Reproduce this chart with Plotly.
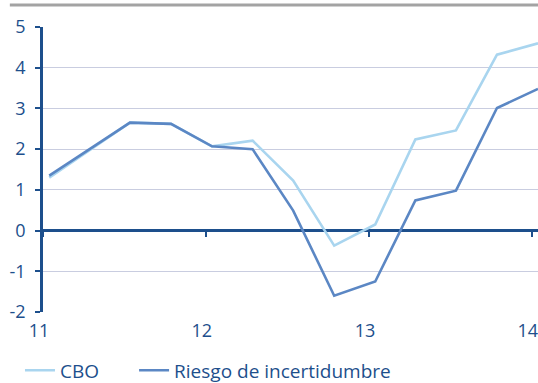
import plotly.graph_objects as go

# Quarterly observations (mid-month of each quarter start), 2011-2014
dates = [
    "2011-01-15", "2011-04-15", "2011-07-15", "2011-10-15",
    "2012-01-15", "2012-04-15", "2012-07-15", "2012-10-15",
    "2013-01-15", "2013-04-15", "2013-07-15", "2013-10-15",
    "2014-01-15",
]
cbo = [1.30, 1.98, 2.65, 2.62, 2.07, 2.21, 1.23, -0.37, 0.15, 2.24, 2.46, 4.32, 4.60]
riesgo = [1.35, 2.00, 2.65, 2.62, 2.07, 2.00, 0.49, -1.60, -1.25, 0.74, 0.98, 3.01, 3.48]

year_ticks = ["2011-01-01", "2012-01-01", "2013-01-01", "2014-01-01"]
year_labels = ["11", "12", "13", "14"]
y_ticks = [-2, -1, 0, 1, 2, 3, 4, 5]
y_labels = ["-2", "-1", "0", "1", "2", "3", "4", "5"]

DARK = "#1d4f8c"
FONT = "Open Sans"

fig = go.Figure()
fig.add_trace(go.Scatter(x=dates, y=cbo, mode="lines", name="CBO", legend="legend",
                         line=dict(color="#a9d5ef", width=2.6)))
fig.add_trace(go.Scatter(x=dates, y=riesgo, mode="lines", name="Riesgo de incertidumbre",
                         legend="legend2", line=dict(color="#5b87c4", width=2.6)))
# invisible trace carrying the tick marks on the zero line
fig.add_trace(go.Scatter(x=dates, y=riesgo, xaxis="x2", mode="lines",
                         line=dict(width=0), showlegend=False, hoverinfo="skip",
                         opacity=0))

legend_style = dict(orientation="h", yanchor="middle", y=-0.205, xanchor="left",
                    font=dict(family=FONT, size=19, color=DARK),
                    itemwidth=30, bgcolor="rgba(0,0,0,0)", borderwidth=0)

fig.update_layout(
    width=538, height=383,
    margin=dict(l=43, r=0, t=27, b=71, autoexpand=False),
    paper_bgcolor="white", plot_bgcolor="white",
    font=dict(family=FONT, size=17, color=DARK),
    showlegend=True,
    legend=dict(x=-0.0465, **legend_style),
    legend2=dict(x=0.184, **legend_style),
    xaxis=dict(type="date", range=["2011-01-01", "2014-01-15"],
               tickvals=year_ticks, ticktext=year_labels,
               showgrid=False, showline=False, zeroline=False,
               ticks="", ticklabelstandoff=6, ticklabelshift=-4,
               ticklabeloverflow="allow",
               tickfont=dict(family=FONT, size=18, color=DARK)),
    xaxis2=dict(type="date", range=["2011-01-01", "2014-01-15"],
                overlaying="x", anchor="free", position=2 / 7,
                tickvals=year_ticks, showticklabels=False,
                ticks="outside", ticklen=5, tickwidth=2, tickcolor=DARK,
                showgrid=False, showline=False, zeroline=False),
    yaxis=dict(range=[-2, 5], tickvals=y_ticks, ticktext=y_labels,
               showgrid=True, gridcolor="#c9cde0", gridwidth=1,
               zeroline=True, zerolinecolor=DARK, zerolinewidth=2.6,
               showline=True, linecolor=DARK, linewidth=2.6,
               ticks="outside", ticklen=5, tickwidth=2, tickcolor=DARK,
               ticklabelstandoff=6,
               tickfont=dict(family=FONT, size=18, color=DARK)),
)

# grey rule across the top of the panel
fig.add_shape(type="line", xref="paper", yref="paper",
              x0=-0.067, x1=1.0, y0=1.077, y1=1.077,
              line=dict(color="#a3a3a3", width=3))

fig.write_html("out.html")
